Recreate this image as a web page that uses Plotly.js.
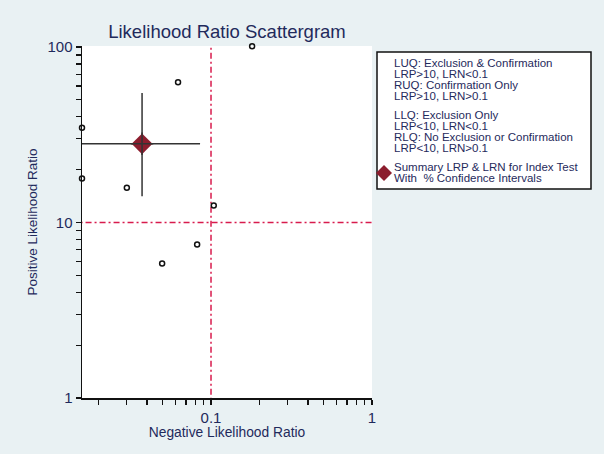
<!DOCTYPE html>
<html><head><meta charset="utf-8">
<script src="https://cdn.plot.ly/plotly-3.0.1.min.js"></script>
<style>body{margin:0;background:#e9f1f3}#c{width:604px;height:454px}</style>
</head><body><div id="c"></div>
<script>
// Study-level likelihood ratios
const studyLRN = [0.0158, 0.0158, 0.030, 0.0624, 0.104, 0.082, 0.0497, 0.18];
const studyLRP = [34.7, 17.8, 15.8, 63, 12.5, 7.5, 5.85, 101];
// Summary estimate with confidence intervals
const summaryLRN = [0.0373];
const summaryLRP = [28.1];
const summaryLRN_CI = [0.012, 0.0855];
const summaryLRP_CI = [14.1, 54.8];
// Thresholds
const thresholdLRN = 0.1;
const thresholdLRP = 10;
// Tick labels (labelled and unlabelled ticks)
const xTickVals = [0.02,0.03,0.04,0.05,0.06,0.07,0.08,0.09,0.1,0.2,0.3,0.4,0.5,0.6,0.7,0.8,0.9,1];
const xTickText = ['','','','','','','','','0.1','','','','','','','','','1'];
const yTickVals = [1,2,3,4,5,6,7,8,9,10,20,30,40,50,60,70,80,90,100];
const yTickText = ['1','','','','','','','','','10','','','','','','','','','100'];
const legendLines = [
  'LUQ: Exclusion & Confirmation', 'LRP>10, LRN<0.1',
  'RUQ: Confirmation Only', 'LRP>10, LRN>0.1',
  'LLQ: Exclusion Only', 'LRP<10, LRN<0.1',
  'RLQ: No Exclusion or Confirmation', 'LRP<10, LRN>0.1',
  'Summary LRP & LRN for Index Test', 'With  % Confidence Intervals'
];

const navy = '#1f2a5c';
const red = '#d81b4d';
const F = 'Liberation Sans, Arial, sans-serif';

const traces = [
  {x:[thresholdLRN,thresholdLRN], y:[0.5,200], mode:'lines', line:{color:red,width:1.5,dash:'6px,3px,2px,3px'}},
  {x:[0.005,2], y:[thresholdLRP,thresholdLRP], mode:'lines', line:{color:red,width:1.5,dash:'6px,3px,2px,3px'}},
  {x:summaryLRN_CI, y:[summaryLRP[0],summaryLRP[0]], mode:'lines', line:{color:'#333',width:1.5}},
  {x:[summaryLRN[0],summaryLRN[0]], y:summaryLRP_CI, mode:'lines', line:{color:'#333',width:1.5}},
  {x:summaryLRN, y:summaryLRP, mode:'markers', marker:{symbol:'diamond', size:16, color:'#8c1d2e', line:{width:0}}},
  {x:summaryLRN, y:summaryLRP, mode:'markers', marker:{symbol:'cross-thin', size:16, line:{color:'#333',width:1.5}}},
  {x:studyLRN, y:studyLRP, mode:'markers', cliponaxis:false, marker:{symbol:'circle-open', size:5, color:'#111', line:{width:1.5}}}
];

const L = 82, R = 372, T = 46, B = 398;
const px = v => (v - L) / (R - L);
const py = v => (B - v) / (B - T);

const lineY = [63, 74, 85, 96, 115, 126, 137, 148, 167, 178];
const annotations = legendLines.map((t,i) => ({
  text: t, xref:'paper', yref:'paper', x: px(392), y: py(lineY[i]),
  xanchor:'left', yanchor:'middle', showarrow:false,
  font:{family:F, size:11.5, color:navy}
}));

const dx = 8/(R-L), dy = 8/(B-T);
const cx = px(384), cy = py(173);
const shapes = [
  {type:'rect', xref:'paper', yref:'paper', x0:px(377), x1:px(591), y0:py(189), y1:py(52),
   line:{color:'#111', width:1.5}, fillcolor:'#fff', layer:'below'},
  {type:'path', xref:'paper', yref:'paper',
   path:`M ${cx-dx} ${cy} L ${cx} ${cy+dy} L ${cx+dx} ${cy} L ${cx} ${cy-dy} Z`,
   fillcolor:'#8c1d2e', line:{width:0}}
];

const layout = {
  width:604, height:454,
  paper_bgcolor:'#e9f1f3', plot_bgcolor:'#ffffff',
  margin:{l:L, r:604-R, t:T, b:454-B, pad:0},
  showlegend:false,
  font:{family:F, color:navy},
  title:{text:'Likelihood Ratio Scattergram', font:{family:F, size:18.5, color:navy},
         x:0.5, xref:'paper', y:1-32/454, yref:'container', xanchor:'center', yanchor:'middle'},
  xaxis:{type:'log', range:[Math.log10(0.0158), 0], showgrid:false, zeroline:false,
    showline:true, linecolor:'#111', linewidth:1.5,
    ticks:'outside', ticklen:5, tickwidth:1.2, tickcolor:'#111',
    tickmode:'array', tickvals:xTickVals, ticktext:xTickText,
    tickfont:{family:F, size:15, color:navy},
    title:{text:'Negative Likelihood Ratio', font:{family:F, size:13.8, color:navy}, standoff:0}},
  yaxis:{type:'log', range:[0, 2.006], showgrid:false, zeroline:false,
    showline:true, linecolor:'#111', linewidth:1.5,
    ticks:'outside', ticklen:5, tickwidth:1.2, tickcolor:'#111',
    tickmode:'array', tickvals:yTickVals, ticktext:yTickText,
    tickfont:{family:F, size:15, color:navy},
    title:{text:'Positive Likelihood Ratio', font:{family:F, size:13.5, color:navy}, standoff:6}},
  annotations, shapes
};
Plotly.newPlot('c', traces, layout, {staticPlot:true});
</script></body></html>
